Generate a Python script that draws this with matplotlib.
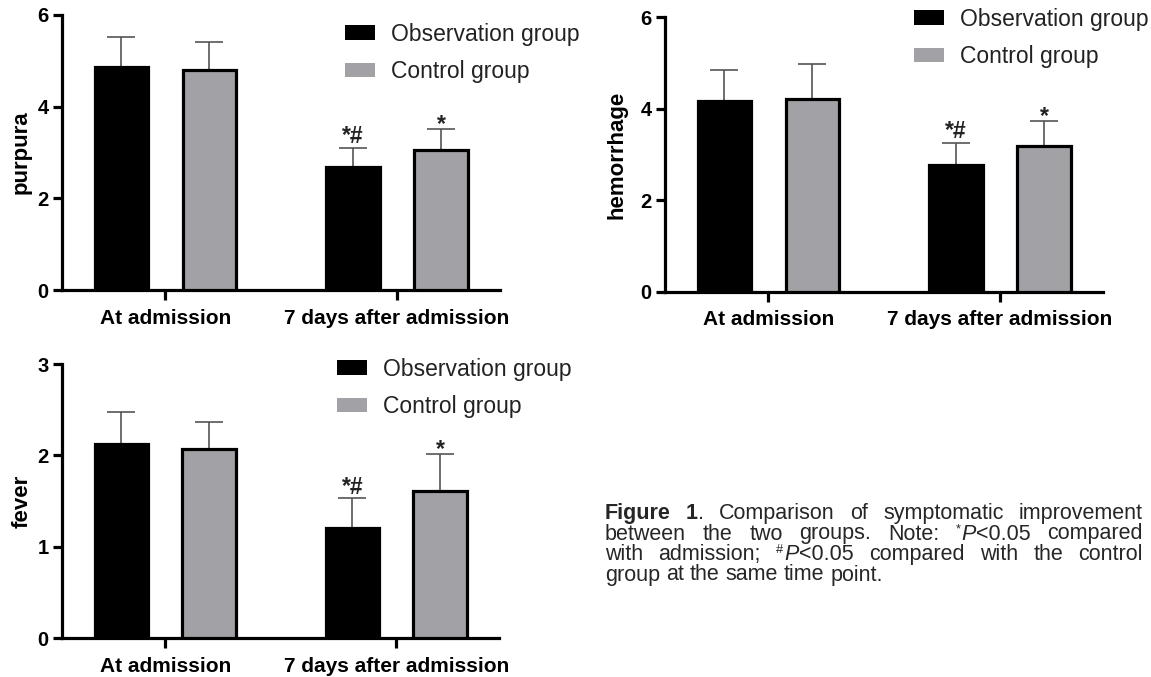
import matplotlib
matplotlib.use("Agg")
import matplotlib.pyplot as plt
from matplotlib.patches import Patch
import numpy as np

# ---------------- data ----------------
categories = ["At admission", "7 days after admission"]
series_names = ["Observation group", "Control group"]

purpura_obs = [4.87, 2.69]
purpura_obs_err = [0.65, 0.41]
purpura_ctrl = [4.79, 3.05]
purpura_ctrl_err = [0.63, 0.47]

hemorrhage_obs = [4.16, 2.76]
hemorrhage_obs_err = [0.68, 0.49]
hemorrhage_ctrl = [4.22, 3.18]
hemorrhage_ctrl_err = [0.76, 0.55]

fever_obs = [2.12, 1.21]
fever_obs_err = [0.35, 0.32]
fever_ctrl = [2.07, 1.61]
fever_ctrl_err = [0.30, 0.41]

obs_marks = ["", "*#"]
ctrl_marks = ["", "*"]

ylabels = ["purpura", "hemorrhage", "fever"]
yticks_6 = [0, 2, 4, 6]
yticks_3 = [0, 1, 2, 3]

# caption: words made of (text, style) segments
caption_lines = [
    [[("Figure", "b")], [("1", "b"), (".", "n")], [("Comparison", "n")], [("of", "n")],
     [("symptomatic", "n")], [("improvement", "n")]],
    [[("between", "n")], [("the", "n")], [("two", "n")], [("groups.", "n")], [("Note:", "n")],
     [("*", "sup"), ("P", "i"), ("<0.05", "n")], [("compared", "n")]],
    [[("with", "n")], [("admission;", "n")], [("#", "sup"), ("P", "i"), ("<0.05", "n")],
     [("compared", "n")], [("with", "n")], [("the", "n")], [("control", "n")]],
    [[("group", "n")], [("at", "n")], [("the", "n")], [("same", "n")], [("time", "n")],
     [("point.", "n")]],
]

# ---------------- style ----------------
W, H = 1151, 677
plt.rcParams["font.family"] = ["Liberation Sans", "DejaVu Sans"]
GRAY = "#a2a2a6"
ECOL = "#555555"
EDGE_LW = 2.3

fig = plt.figure(figsize=(W / 100, H / 100), dpi=100)


def px_rect(x0, x1, ytop, ybot):
    return [x0 / W, 1 - ybot / H, (x1 - x0) / W, (ybot - ytop) / H]


def draw_panel(rect, obs, obs_err, ctrl, ctrl_err, ylabel, yticks, label_x, legend_px):
    ax = fig.add_axes(rect)
    x = np.arange(len(categories))
    off, w = 0.19, 0.232
    n = len(categories)
    ax.errorbar(x - off, obs, yerr=[np.zeros(n), obs_err], fmt="none", ecolor=ECOL,
                elinewidth=1.2, capsize=10, capthick=1.2, zorder=2)
    ax.errorbar(x + off, ctrl, yerr=[np.zeros(n), ctrl_err], fmt="none", ecolor=ECOL,
                elinewidth=1.2, capsize=10, capthick=1.2, zorder=2)
    ax.bar(x - off, obs, w, color="black", edgecolor="black", linewidth=EDGE_LW, zorder=3)
    ax.bar(x + off, ctrl, w, color=GRAY, edgecolor="black", linewidth=EDGE_LW, zorder=3)

    for xi, v, e, m in zip(x - off, obs, obs_err, obs_marks):
        if m:
            ax.annotate(m, (xi, v + e), xytext=(0, 3.5), textcoords="offset points",
                        ha="center", va="baseline", fontsize=16.5, fontweight="bold",
                        color="#222222", zorder=5)
    for xi, v, e, m in zip(x + off, ctrl, ctrl_err, ctrl_marks):
        if m:
            dy = 3.5 if "#" in m else -1.5
            ax.annotate(m, (xi, v + e), xytext=(0, dy), textcoords="offset points",
                        ha="center", va="baseline", fontsize=16.5, fontweight="bold",
                        color="#222222", zorder=5)

    ax.set_xlim(-0.447, 1.445)
    ax.set_ylim(0, yticks[-1])
    ax.set_yticks(yticks)
    ax.set_xticks(x)
    ax.set_xticklabels(categories, fontsize=15, fontweight="bold")
    ax.set_yticklabels([str(t) for t in yticks], fontsize=14.5, fontweight="bold")
    for s in ["top", "right"]:
        ax.spines[s].set_visible(False)
    for s in ["left", "bottom"]:
        ax.spines[s].set_linewidth(EDGE_LW)
    ax.tick_params(axis="y", length=6.5, width=EDGE_LW, pad=3)
    ax.tick_params(axis="x", length=7, width=EDGE_LW, pad=6.5)
    ax.set_ylabel(ylabel, fontsize=16, fontweight="bold", va="center")
    ax.yaxis.set_label_coords(label_x, 0.5)

    handles = [Patch(facecolor="black", edgecolor="none"),
               Patch(facecolor=GRAY, edgecolor="none")]
    leg = ax.legend(handles, series_names, loc="center left",
                    bbox_to_anchor=(legend_px[0] / W, 1 - legend_px[1] / H),
                    bbox_transform=fig.transFigure, frameon=False, fontsize=16.5,
                    handlelength=1.33, handleheight=0.62, handletextpad=0.68,
                    labelspacing=0.62, borderpad=0, borderaxespad=0)
    for t in leg.get_texts():
        t.set_color("#222222")
    return ax


draw_panel(px_rect(62, 500, 15, 290), purpura_obs, purpura_obs_err, purpura_ctrl,
           purpura_ctrl_err, ylabels[0], yticks_6, -0.094, (345, 53))
draw_panel(px_rect(665, 1103, 17.3, 291.7), hemorrhage_obs, hemorrhage_obs_err,
           hemorrhage_ctrl, hemorrhage_ctrl_err, ylabels[1], yticks_6, -0.110, (914, 38))
draw_panel(px_rect(62, 499, 364, 638.3), fever_obs, fever_obs_err, fever_ctrl,
           fever_ctrl_err, ylabels[2], yticks_3, -0.092, (337, 388))

# ---------------- caption (justified) ----------------
renderer = fig.canvas.get_renderer()
CAP_FAMILY = ["Liberation Sans"]
CAP_FS = 15.5
CAP_LEFT, CAP_RIGHT = 605, 1143
CAP_BASE0, CAP_STEP = 519, 20.5
CAP_COLOR = "#262626"


def seg_props(style):
    p = dict(fontsize=CAP_FS, color=CAP_COLOR, va="baseline", ha="left", family=CAP_FAMILY)
    if style == "b":
        p["fontweight"] = "bold"
    elif style == "i":
        p["fontstyle"] = "italic"
    elif style == "sup":
        p["fontsize"] = CAP_FS * 0.6
    return p


space_t = fig.text(0, 0, "a a", fontsize=CAP_FS, family=CAP_FAMILY)
aa_t = fig.text(0, 0, "aa", fontsize=CAP_FS, family=CAP_FAMILY)
space_w = space_t.get_window_extent(renderer).width - aa_t.get_window_extent(renderer).width
space_t.remove()
aa_t.remove()

for li, words in enumerate(caption_lines):
    base = CAP_BASE0 + li * CAP_STEP
    objs = []
    widths = []
    for word in words:
        wobjs = []
        ww = 0
        for txt, st in word:
            t = fig.text(0, 0, txt, **seg_props(st))
            sw = t.get_window_extent(renderer).width
            wobjs.append((t, ww, st))
            ww += sw + (1 if st == "sup" else 0)
        objs.append(wobjs)
        widths.append(ww)
    total = sum(widths)
    justify = li < len(caption_lines) - 1
    gap = (CAP_RIGHT - CAP_LEFT - total) / (len(words) - 1) if justify else space_w
    xcur = CAP_LEFT
    for wobjs, ww in zip(objs, widths):
        for t, dx, st in wobjs:
            yb = base - (7 if st == "sup" else 0)
            t.set_position(((xcur + dx) / W, 1 - yb / H))
        xcur += ww + gap

fig.savefig("out.png", dpi=100)
